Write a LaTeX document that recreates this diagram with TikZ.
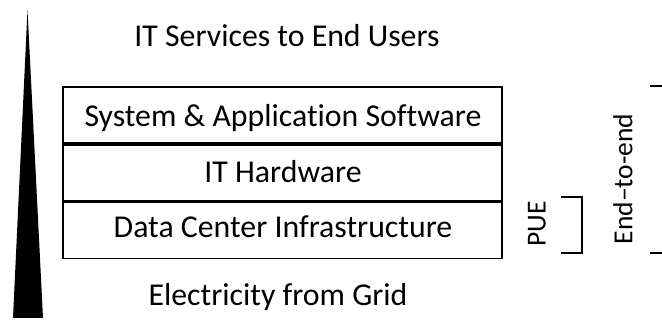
\documentclass[tikz,border=0pt]{standalone}
\usepackage{fontspec}
\setmainfont{Carlito}[Ligatures=NoCommon]
\begin{document}
\begin{tikzpicture}[x=1pt,y=-1pt,
  lbl/.style={anchor=base,inner sep=0pt,font=\fontsize{31.8}{36}\selectfont},
  sidelbl/.style={inner sep=0pt,rotate=90,font=\fontsize{27.5}{32}\selectfont},
  layer/.style={draw,line width=1.7pt,minimum width=439pt,minimum height=56pt,inner sep=0pt},
  brk/.style={line width=1.7pt}]
\useasboundingbox (0,0) rectangle (662,320);
% rising wedge on the left
\fill (27.5,10) -- (43,318) -- (13,318) -- cycle;
% layer stack
\node[layer] (sw) at (282.5,115) {};
\node[layer,anchor=north] (hw) at (sw.south) {};
\node[layer,anchor=north] (dc) at (hw.south) {};
\node[lbl] (swt) at (283,127) {System \& Application Software};
\node[lbl] (hwt) at (283,183) {IT Hardware};
\node[lbl] (dct) at (283,238) {Data Center Infrastructure};
\node[lbl] (top) at (287,47) {IT Services to End Users};
\node[lbl] (bot) at (278,306) {Electricity from Grid};
% PUE bracket
\coordinate (p1) at (561,197);
\coordinate (p2) at (582,197);
\coordinate (p3) at (582,253);
\coordinate (p4) at (561,253);
\draw[brk] (p1) -- (p2) -- (p3) -- (p4);
\node[sidelbl] (pue) at (537,224) {PUE};
% end-to-end bracket
\coordinate (e1) at (650,86);
\coordinate (e2) at (662,86);
\coordinate (e3) at (650,253);
\coordinate (e4) at (662,253);
\draw[brk] (e1) -- (e2);
\draw[brk] (e3) -- (e4);
\node[sidelbl] (e2e) at (623,179) {End–to-end};
\end{tikzpicture}
\end{document}
